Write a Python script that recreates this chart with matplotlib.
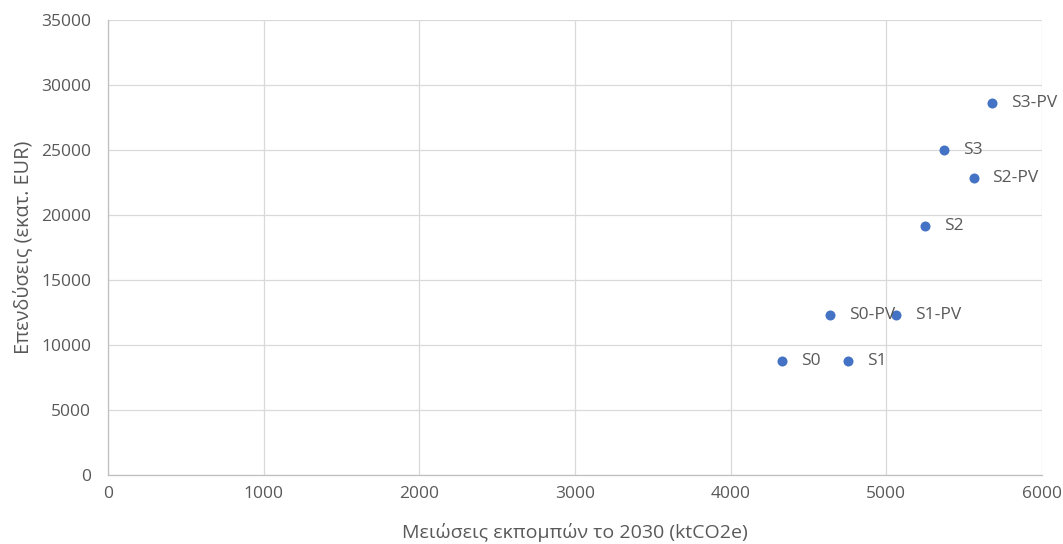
import matplotlib.pyplot as plt

# Scenario results: emission reductions in 2030 vs. investment cost
scenarios = ['S0', 'S1', 'S0-PV', 'S1-PV', 'S2', 'S2-PV', 'S3', 'S3-PV']
reductions = [4330, 4755, 4640, 5065, 5250, 5560, 5370, 5680]
investments = [8800, 8800, 12330, 12330, 19180, 22820, 25000, 28640]

x_ticks = [0, 1000, 2000, 3000, 4000, 5000, 6000]
y_ticks = [0, 5000, 10000, 15000, 20000, 25000, 30000, 35000]

plt.rcParams['font.family'] = ['Open Sans', 'DejaVu Sans']
text_color = '#595959'
grid_color = '#d9d9d9'

fig = plt.figure(figsize=(10.63, 5.44), dpi=100)
ax = fig.add_axes([108 / 1063, 69 / 544, 934 / 1063, 455 / 544])

ax.scatter(reductions, investments, s=52, color='#4472c4', zorder=3, linewidths=0)
for name, x, y in zip(scenarios, reductions, investments):
    ax.annotate(name, (x, y), xytext=(13.5, 0), textcoords='offset points',
                va='center', ha='left', fontsize=12.5, color=text_color, zorder=4)

ax.set_xlim(0, 6000)
ax.set_ylim(0, 35000)
ax.set_xticks(x_ticks)
ax.set_yticks(y_ticks)
ax.grid(True, color=grid_color, linewidth=0.9)
ax.set_axisbelow(True)
for side in ['top', 'right']:
    ax.spines[side].set_visible(False)
for side in ['left', 'bottom']:
    ax.spines[side].set_color('#bfbfbf')
    ax.spines[side].set_linewidth(0.9)
ax.tick_params(length=0, labelsize=12.5, labelcolor=text_color)
ax.tick_params(axis='y', pad=12)
ax.tick_params(axis='x', pad=8)

ax.set_xlabel('Μειώσεις εκπομπών το 2030 (ktCO2e)', fontsize=14,
              color=text_color, labelpad=15)
ax.set_ylabel('Επενδύσεις (εκατ. EUR)', fontsize=14.3, color=text_color,
              labelpad=6)

fig.savefig('out.png', dpi=100)
